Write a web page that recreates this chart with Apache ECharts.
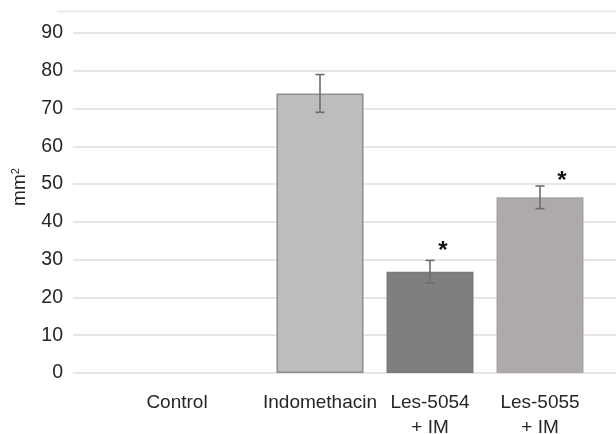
<!DOCTYPE html>
<html>
<head>
<meta charset="utf-8">
<script src="https://cdn.jsdelivr.net/npm/echarts@6/dist/echarts.min.js"></script>
<style>
html,body{margin:0;padding:0;background:#fff;}
#chart{width:616px;height:434px;}
</style>
</head>
<body>
<div id="chart"></div>
<script>
// ---- data ----
var categories = ['Control', 'Indomethacin', 'Les-5054\n+ IM', 'Les-5055\n+ IM'];
var values = [null, 74.0, 26.8, 46.5];
var errors = [null, 5.0, 3.0, 3.0];
var significant = [false, false, true, true];
var yTicks = [0, 10, 20, 30, 40, 50, 60, 70, 80, 90];

// ---- styles ----
var barColors = ['#bdbdbd', '#bdbdbd', '#7f7f7f', '#aeaaa9'];
var barBorders = ['#8c8c8c', '#8c8c8c', '#7a7a7a', '#a9a5a4'];
var starDx = [0, 0, 13, 22];
var starDy = [0, 0, 4, 8];

var chart = echarts.init(document.getElementById('chart'));
var yMin = yTicks[0], yMax = yTicks[yTicks.length - 1];
var yStep = yTicks[1] - yTicks[0];
var FONT = 'Liberation Sans, Arial, sans-serif';

var option = {
  animation: false,
  backgroundColor: '#ffffff',
  grid: [
    {left: 73, right: 0, top: 33, bottom: 61, outerBoundsMode: 'none', containLabel: false},
    {left: 155, right: 21, top: 33, bottom: 61, outerBoundsMode: 'none', containLabel: false}
  ],
  xAxis: [
    {gridIndex: 0, type: 'category', data: categories, show: false},
    {
      gridIndex: 1, type: 'category',
      data: categories.map(function (c, i) {
        return i === 0 ? {value: c, textStyle: {padding: [0, 66, 0, 0]}} : c;
      }),
      axisLine: {show: false},
      axisTick: {show: false},
      axisLabel: {
        color: '#262626', fontSize: 19, fontFamily: FONT,
        margin: 17, lineHeight: 25, interval: 0, hideOverlap: false
      }
    }
  ],
  yAxis: [
    {
      gridIndex: 0, type: 'value', min: yMin, max: yMax, interval: yStep,
      axisLine: {show: false}, axisTick: {show: false},
      axisLabel: {color: '#262626', fontSize: 19.5, fontFamily: FONT, margin: 10},
      splitLine: {lineStyle: {color: '#e2dcdc', width: 1.5}},
      name: 'mm{sup|2}', nameLocation: 'middle', nameGap: 43, nameRotate: 90,
      nameTextStyle: {
        color: '#262626', fontSize: 19, fontFamily: FONT, padding: [0, 0, 0, 32],
        rich: {sup: {fontSize: 11, verticalAlign: 'top', padding: [0, 0, 9, 0], color: '#262626', fontFamily: FONT}}
      }
    },
    {gridIndex: 1, type: 'value', min: yMin, max: yMax, interval: yStep, show: false, splitLine: {show: false}}
  ],
  graphic: [
    {type: 'line', shape: {x1: 57, y1: 11.5, x2: 616, y2: 11.5}, style: {stroke: '#e6e6e6', lineWidth: 1.5}, silent: true}
  ],
  series: [
    {
      type: 'bar', xAxisIndex: 1, yAxisIndex: 1, barWidth: 87,
      data: values.map(function (v, i) {
        return {value: v, itemStyle: {color: barColors[i], borderColor: barBorders[i], borderWidth: 1.5}};
      })
    },
    {
      type: 'custom', xAxisIndex: 1, yAxisIndex: 1, z: 5,
      data: values.map(function (v, i) { return [i, v, errors[i], significant[i] ? 1 : 0]; }),
      renderItem: function (params, api) {
        var v = api.value(1);
        if (v === null || isNaN(v)) return;
        var i = api.value(0), e = api.value(2);
        var top = api.coord([i, v + e]);
        var bot = api.coord([i, v - e]);
        var hw = 4.5;
        var st = {stroke: '#6e6e6e', lineWidth: 1.6};
        var children = [
          {type: 'line', shape: {x1: top[0], y1: top[1], x2: bot[0], y2: bot[1]}, style: st},
          {type: 'line', shape: {x1: top[0] - hw, y1: top[1], x2: top[0] + hw, y2: top[1]}, style: st},
          {type: 'line', shape: {x1: bot[0] - hw, y1: bot[1], x2: bot[0] + hw, y2: bot[1]}, style: st}
        ];
        if (api.value(3) === 1) {
          children.push({
            type: 'text',
            style: {
              text: '*', x: top[0] + starDx[i], y: top[1] - 1 + starDy[i],
              fill: '#111', font: 'bold 24px Liberation Sans, Arial, sans-serif',
              align: 'center', verticalAlign: 'bottom'
            }
          });
        }
        return {type: 'group', children: children};
      }
    }
  ]
};
chart.setOption(option);
</script>
</body>
</html>
